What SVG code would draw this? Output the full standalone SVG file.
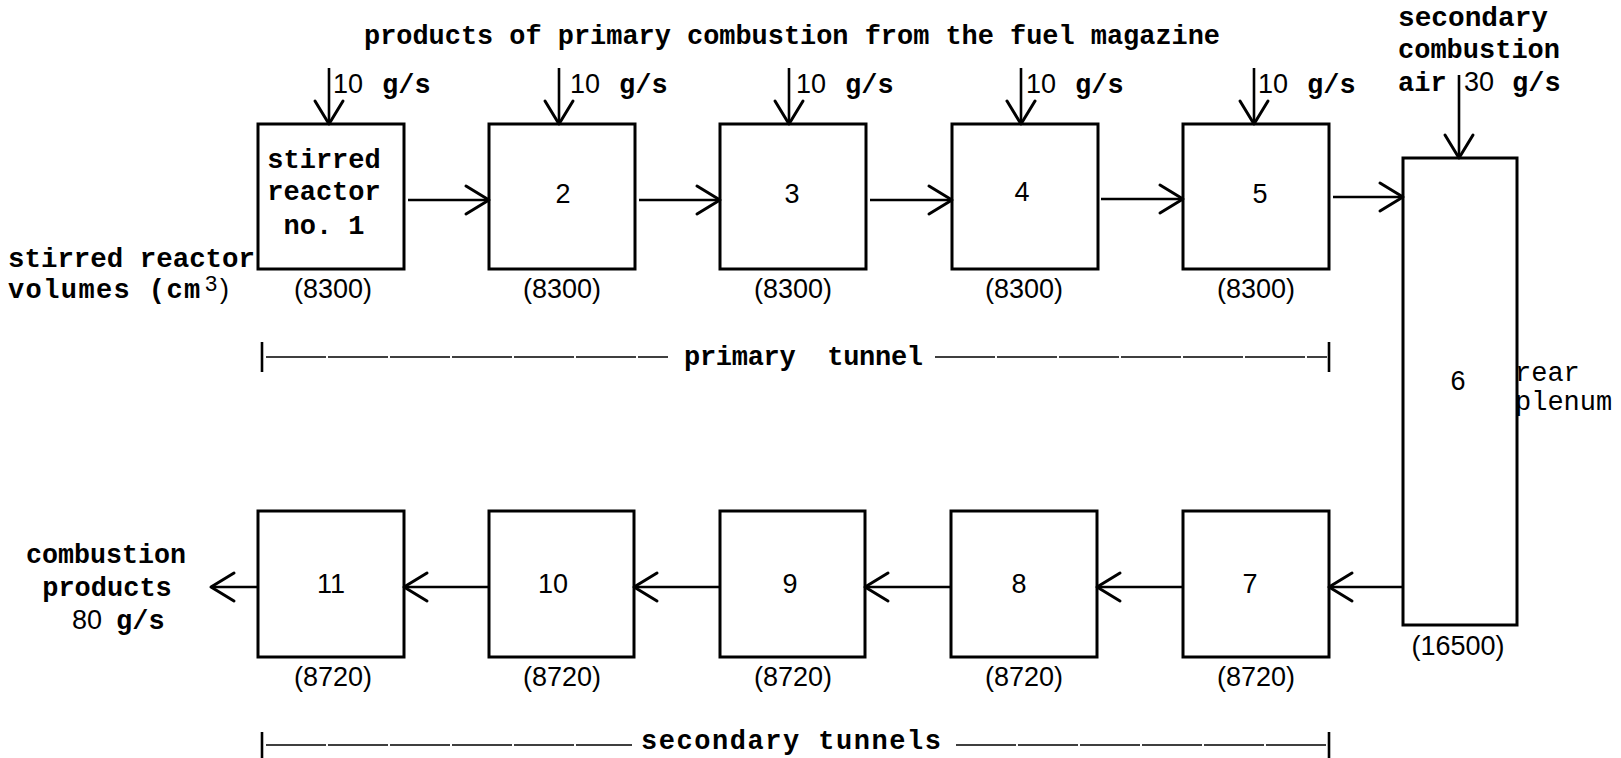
<svg xmlns="http://www.w3.org/2000/svg" width="1621" height="758" viewBox="0 0 1621 758">
<defs>
<style>
.tw{font-family:"Liberation Mono","Courier New",monospace;font-size:27px;font-weight:bold;fill:#000}
.tn{font-family:"Liberation Mono","Courier New",monospace;font-size:27px;fill:#000}
.ll{font-family:"Liberation Sans",Arial,sans-serif;font-size:27px;fill:#000}
.sup{font-family:"Liberation Sans",Arial,sans-serif;font-size:22px;font-weight:normal}
.par{font-family:"Liberation Sans",Arial,sans-serif;font-size:27px;font-weight:normal}
.box{fill:#fff;stroke:#000;stroke-width:3}
.con line{stroke:#000;stroke-width:2.6;fill:none}
.bar{stroke:#000;stroke-width:1.5;stroke-dasharray:60 2;fill:none}
.tick{stroke:#000;stroke-width:2.6}
</style>
<marker id="ah" markerUnits="userSpaceOnUse" markerWidth="40" markerHeight="40" viewBox="-30 -20 40 40" refX="0" refY="0" orient="auto" overflow="visible">
<path d="M-23,-14 L0,0 L-23,14" fill="none" stroke="#000" stroke-width="3" stroke-linecap="round" stroke-linejoin="round"/>
</marker>
</defs>
<rect x="0" y="0" width="1621" height="758" fill="#fff"/>

<text class="tw" x="364" y="44" textLength="856" lengthAdjust="spacingAndGlyphs">products of primary combustion from the fuel magazine</text>

<g id="r1"><rect class="box" x="258" y="124" width="146" height="145"/>
<text class="tw" x="324" y="168" text-anchor="middle">stirred</text>
<text class="tw" x="324" y="200" text-anchor="middle">reactor</text>
<text class="tw" x="324" y="234" text-anchor="middle">no. 1</text>
<text class="ll" x="333" y="298" text-anchor="middle">(8300)</text></g>
<g id="r2"><rect class="box" x="489" y="124" width="146" height="145"/>
<text class="ll" x="563" y="203" text-anchor="middle">2</text>
<text class="ll" x="562" y="298" text-anchor="middle">(8300)</text></g>
<g id="r3"><rect class="box" x="720" y="124" width="146" height="145"/>
<text class="ll" x="792" y="203" text-anchor="middle">3</text>
<text class="ll" x="793" y="298" text-anchor="middle">(8300)</text></g>
<g id="r4"><rect class="box" x="952" y="124" width="146" height="145"/>
<text class="ll" x="1022" y="201" text-anchor="middle">4</text>
<text class="ll" x="1024" y="298" text-anchor="middle">(8300)</text></g>
<g id="r5"><rect class="box" x="1183" y="124" width="146" height="145"/>
<text class="ll" x="1260" y="203" text-anchor="middle">5</text>
<text class="ll" x="1256" y="298" text-anchor="middle">(8300)</text></g>
<g id="r6"><rect class="box" x="1403" y="158" width="114" height="467"/>
<text class="ll" x="1458" y="390" text-anchor="middle">6</text>
<text class="ll" x="1458" y="655" text-anchor="middle">(16500)</text>
<text class="tn" x="1515" y="381">rear</text>
<text class="tn" x="1515" y="410">plenum</text></g>
<g id="r7"><rect class="box" x="1183" y="511" width="146" height="146"/>
<text class="ll" x="1250" y="593" text-anchor="middle">7</text>
<text class="ll" x="1256" y="686" text-anchor="middle">(8720)</text></g>
<g id="r8"><rect class="box" x="951" y="511" width="146" height="146"/>
<text class="ll" x="1019" y="593" text-anchor="middle">8</text>
<text class="ll" x="1024" y="686" text-anchor="middle">(8720)</text></g>
<g id="r9"><rect class="box" x="720" y="511" width="145" height="146"/>
<text class="ll" x="790" y="593" text-anchor="middle">9</text>
<text class="ll" x="793" y="686" text-anchor="middle">(8720)</text></g>
<g id="r10"><rect class="box" x="489" y="511" width="145" height="146"/>
<text class="ll" x="553" y="593" text-anchor="middle">10</text>
<text class="ll" x="562" y="686" text-anchor="middle">(8720)</text></g>
<g id="r11"><rect class="box" x="258" y="511" width="146" height="146"/>
<text class="ll" x="331" y="593" text-anchor="middle">11</text>
<text class="ll" x="333" y="686" text-anchor="middle">(8720)</text></g>

<g id="labels">
<text class="tw" x="8" y="267" textLength="247" lengthAdjust="spacingAndGlyphs">stirred reactor</text>
<text class="tw" x="8" y="298" style="letter-spacing:1.4px">volumes (cm<tspan class="sup" x="205" dy="-7" style="letter-spacing:0">3</tspan><tspan class="par" x="220" dy="7" style="letter-spacing:0">)</tspan></text>
<text class="tw" x="106" y="563" text-anchor="middle" textLength="160" lengthAdjust="spacingAndGlyphs">combustion</text>
<text class="tw" x="107" y="596" text-anchor="middle">products</text>
<text class="ll" x="72" y="629">80</text>
<text class="tw" x="116" y="629">g/s</text>
<text class="tw" x="1398" y="26" textLength="150" lengthAdjust="spacingAndGlyphs">secondary</text>
<text class="tw" x="1398" y="58" textLength="162" lengthAdjust="spacingAndGlyphs">combustion</text>
<text class="tw" x="1398" y="91">air</text>
<text class="ll" x="1464" y="91">30</text>
<text class="tw" x="1512" y="91">g/s</text>
<text class="ll" x="333" y="93">10</text><text class="tw" x="382" y="93">g/s</text>
<text class="ll" x="570" y="93">10</text><text class="tw" x="619" y="93">g/s</text>
<text class="ll" x="796" y="93">10</text><text class="tw" x="845" y="93">g/s</text>
<text class="ll" x="1026" y="93">10</text><text class="tw" x="1075" y="93">g/s</text>
<text class="ll" x="1258" y="93">10</text><text class="tw" x="1307" y="93">g/s</text>
<text class="tw" x="684" y="365" textLength="239" lengthAdjust="spacing">primary&#160;&#160;tunnel</text>
<text class="tw" x="641" y="749" textLength="300" lengthAdjust="spacing">secondary tunnels</text>
</g>

<g id="connectors" class="con">
<line x1="329" y1="68" x2="329" y2="124" marker-end="url(#ah)"/>
<line x1="559" y1="68" x2="559" y2="124" marker-end="url(#ah)"/>
<line x1="789" y1="68" x2="789" y2="124" marker-end="url(#ah)"/>
<line x1="1021" y1="68" x2="1021" y2="124" marker-end="url(#ah)"/>
<line x1="1254" y1="68" x2="1254" y2="124" marker-end="url(#ah)"/>
<line x1="1459" y1="75" x2="1459" y2="158" marker-end="url(#ah)"/>
<line x1="408" y1="200" x2="489" y2="200" marker-end="url(#ah)"/>
<line x1="639" y1="200" x2="720" y2="200" marker-end="url(#ah)"/>
<line x1="870" y1="200" x2="952" y2="200" marker-end="url(#ah)"/>
<line x1="1101" y1="199" x2="1183" y2="199" marker-end="url(#ah)"/>
<line x1="1333" y1="197" x2="1403" y2="197" marker-end="url(#ah)"/>
<line x1="1403" y1="587" x2="1329" y2="587" marker-end="url(#ah)"/>
<line x1="1183" y1="587" x2="1097" y2="587" marker-end="url(#ah)"/>
<line x1="951" y1="587" x2="865" y2="587" marker-end="url(#ah)"/>
<line x1="720" y1="587" x2="634" y2="587" marker-end="url(#ah)"/>
<line x1="489" y1="587" x2="404" y2="587" marker-end="url(#ah)"/>
<line x1="258" y1="587" x2="211" y2="587" marker-end="url(#ah)"/>
</g>

<g id="tunnels">
<line class="tick" x1="262" y1="342" x2="262" y2="372"/>
<line class="tick" x1="1329" y1="342" x2="1329" y2="372"/>
<path class="bar" d="M266,357 H668 M935,357 H1327"/>
<line class="tick" x1="262" y1="732" x2="262" y2="758"/>
<line class="tick" x1="1329" y1="732" x2="1329" y2="758"/>
<path class="bar" d="M266,745 H632 M956,745 H1327"/>
</g>
</svg>
